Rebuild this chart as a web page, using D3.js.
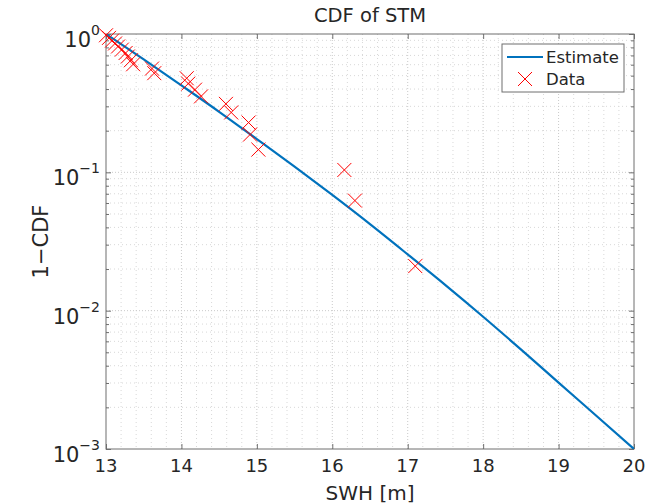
<!DOCTYPE html>
<html>
<head>
<meta charset="utf-8">
<script src="https://cdn.jsdelivr.net/npm/d3@7"></script>
<style>
  html, body { margin: 0; padding: 0; background: #fff; }
  svg { display: block; }
  text { font-family: "DejaVu Sans", "Liberation Sans", sans-serif; fill: #262626; }
</style>
</head>
<body>
<svg id="chart" width="664" height="504"></svg>
<script>
// Fitted exceedance curve (SWH in m, 1-CDF)
const estimateX = [13, 13.5, 14, 14.5, 15, 15.5, 16, 16.5, 17, 17.5, 18, 18.5, 19, 19.5, 20];
const estimateY = [1.0, 0.656, 0.425, 0.274, 0.174, 0.110, 0.0686, 0.0422, 0.0255, 0.0153, 0.00904, 0.00525, 0.00302, 0.00174, 0.001];

// Observed storm peaks and their empirical exceedance probabilities
const dataX = [13.00, 13.04, 13.08, 13.12, 13.16, 13.21, 13.26, 13.29, 13.33, 13.36, 13.61, 13.64,
               14.07, 14.09, 14.18, 14.26, 14.59, 14.66, 14.89, 14.91, 15.02, 16.16, 16.30, 17.10];
const dataY = [0.979, 0.9375, 0.896, 0.854, 0.8125, 0.771, 0.729, 0.6875, 0.646, 0.604, 0.5625, 0.521,
               0.479, 0.4375, 0.396, 0.354, 0.3125, 0.271, 0.229, 0.1875, 0.146, 0.104, 0.0625, 0.021];

const xTicks = [13, 14, 15, 16, 17, 18, 19, 20];
const yTickExponents = [0, -1, -2, -3];

(function () {
const svg = d3.select("#chart");
const L = 106, R = 634, T = 34, B = 449;

const x = d3.scaleLinear().domain([13, 20]).range([L, R]);
const y = d3.scaleLog().domain([1e-3, 1]).range([B, T]);

// Minor positions
const xMinor = d3.range(13, 20.0001, 0.2).filter(v => Math.abs(v - Math.round(v)) > 1e-6);
const yMinor = [];
for (let e = -3; e < 0; e++) for (let m = 2; m <= 9; m++) yMinor.push(m * Math.pow(10, e));

const grid = svg.append("g");
// minor grid
grid.selectAll(".gx").data(xMinor).enter().append("line")
  .attr("x1", d => x(d)).attr("x2", d => x(d)).attr("y1", T).attr("y2", B)
  .attr("stroke", "#d8d8d8").attr("stroke-width", 1).attr("stroke-dasharray", "1,3");
grid.selectAll(".gy").data(yMinor).enter().append("line")
  .attr("x1", L).attr("x2", R).attr("y1", d => y(d)).attr("y2", d => y(d))
  .attr("stroke", "#d8d8d8").attr("stroke-width", 1).attr("stroke-dasharray", "1,3");
// major grid
grid.selectAll(".mx").data(xTicks.slice(1, -1)).enter().append("line")
  .attr("x1", d => x(d)).attr("x2", d => x(d)).attr("y1", T).attr("y2", B)
  .attr("stroke", "#cacaca").attr("stroke-width", 1).attr("stroke-dasharray", "1,2");
grid.selectAll(".my").data(yTickExponents.slice(1, -1)).enter().append("line")
  .attr("x1", L).attr("x2", R).attr("y1", d => y(Math.pow(10, d))).attr("y2", d => y(Math.pow(10, d)))
  .attr("stroke", "#cacaca").attr("stroke-width", 1).attr("stroke-dasharray", "1,2");

// Axis box
svg.append("rect").attr("x", L).attr("y", T).attr("width", R - L).attr("height", B - T)
  .attr("fill", "none").attr("stroke", "#6e6e6e").attr("stroke-width", 1);

// Inward ticks on all four sides via d3 axes
const majorY = yTickExponents.map(e => Math.pow(10, e));
const axB = d3.axisBottom(x).tickValues(xTicks).tickSize(-5).tickFormat("");
const axT = d3.axisTop(x).tickValues(xTicks).tickSize(-5).tickFormat("");
const axL = d3.axisLeft(y).tickValues(majorY).tickSize(-5).tickFormat("");
const axR = d3.axisRight(y).tickValues(majorY).tickSize(-5).tickFormat("");
const axLm = d3.axisLeft(y).tickValues(yMinor).tickSize(-3).tickFormat("");
const axRm = d3.axisRight(y).tickValues(yMinor).tickSize(-3).tickFormat("");
function styleAxis(g) {
  g.select(".domain").remove();
  g.selectAll("line").attr("stroke", "#6e6e6e");
}
svg.append("g").attr("transform", `translate(0,${B})`).call(axB).call(styleAxis);
svg.append("g").attr("transform", `translate(0,${T})`).call(axT).call(styleAxis);
svg.append("g").attr("transform", `translate(${L},0)`).call(axL).call(styleAxis);
svg.append("g").attr("transform", `translate(${R},0)`).call(axR).call(styleAxis);
svg.append("g").attr("transform", `translate(${L},0)`).call(axLm).call(styleAxis);
svg.append("g").attr("transform", `translate(${R},0)`).call(axRm).call(styleAxis);

// Tick labels
svg.append("g").selectAll("text").data(xTicks).enter().append("text")
  .attr("x", d => x(d)).attr("y", B + 23).attr("text-anchor", "middle")
  .attr("font-size", 18).text(d => d);

const yl = svg.append("g").selectAll("text").data(yTickExponents).enter().append("text")
  .attr("x", L - 6).attr("y", d => y(Math.pow(10, d)) + 13).attr("text-anchor", "end")
  .attr("font-size", 21);
yl.append("tspan").text("10");
yl.append("tspan").attr("dy", -12).attr("font-size", 14).text(d => d === 0 ? "0" : "\u2212" + Math.abs(d));

// Axis titles
svg.append("text").attr("x", (L + R) / 2).attr("y", 22).attr("text-anchor", "middle")
  .attr("font-size", 19.5).text("CDF of STM");
svg.append("text").attr("x", (L + R) / 2).attr("y", 500).attr("text-anchor", "middle")
  .attr("font-size", 20).text("SWH [m]");
svg.append("text").attr("transform", `translate(48,${(T + B) / 2}) rotate(-90)`)
  .attr("text-anchor", "middle").attr("font-size", 21).text("1\u2212CDF");

// Clip for the estimate line
svg.append("clipPath").attr("id", "plotClip").append("rect")
  .attr("x", L).attr("y", T).attr("width", R - L).attr("height", B - T);

const line = d3.line().x(d => x(d[0])).y(d => y(d[1])).curve(d3.curveMonotoneX);
svg.append("path").datum(d3.zip(estimateX, estimateY))
  .attr("clip-path", "url(#plotClip)")
  .attr("d", line).attr("fill", "none").attr("stroke", "#0072BD").attr("stroke-width", 2.2);

// Data markers
const s = 7;
const marks = svg.append("g").selectAll("g").data(d3.zip(dataX, dataY)).enter().append("g")
  .attr("transform", d => `translate(${x(d[0])},${y(d[1])})`);
marks.append("path").attr("d", `M${-s},${-s}L${s},${s}M${-s},${s}L${s},${-s}`)
  .attr("stroke", "#ff0000").attr("stroke-width", 1).attr("fill", "none");

// Legend
const lg = svg.append("g");
lg.append("rect").attr("x", 502).attr("y", 44).attr("width", 122).attr("height", 48)
  .attr("fill", "#fff").attr("stroke", "#6e6e6e").attr("stroke-width", 1);
lg.append("line").attr("x1", 507).attr("x2", 543).attr("y1", 57).attr("y2", 57)
  .attr("stroke", "#0072BD").attr("stroke-width", 2.2);
lg.append("text").attr("x", 546).attr("y", 63).attr("font-size", 16.5).text("Estimate");
lg.append("path").attr("d", `M${525 - s},${79 - s}L${525 + s},${79 + s}M${525 - s},${79 + s}L${525 + s},${79 - s}`)
  .attr("stroke", "#ff0000").attr("stroke-width", 1);
lg.append("text").attr("x", 546).attr("y", 85).attr("font-size", 16.5).text("Data");
})();
</script>
</body>
</html>
